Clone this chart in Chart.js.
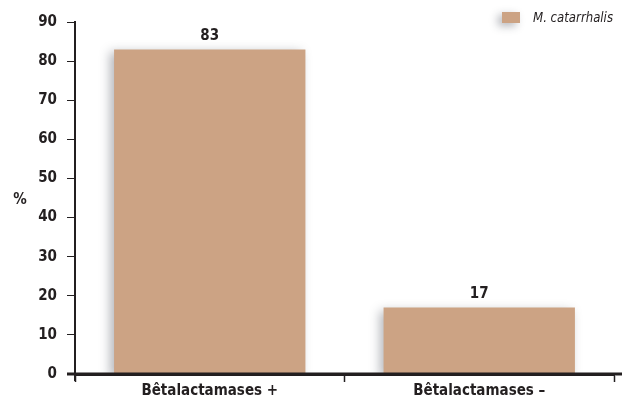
<!DOCTYPE html>
<html>
<head>
<meta charset="utf-8">
<script src="https://cdn.jsdelivr.net/npm/chart.js@4"></script>
<style>
  html, body { margin: 0; padding: 0; background: #fff; }
  #wrap { width: 622px; height: 398px; }
</style>
</head>
<body>
<div id="wrap"><canvas id="chart"></canvas></div>
<script>
const categories = ['Bêtalactamases +', 'Bêtalactamases –'];
const seriesName = 'M. catarrhalis';
const values = [83, 17];
const yTicks = [0, 10, 20, 30, 40, 50, 60, 70, 80, 90];

const ink = '#231f20';
const barColor = '#cca384';
const font = "'Liberation Sans Narrow', 'DejaVu Sans Condensed', Arial, sans-serif";

// soft shadow under the bars
const barShadow = {
  id: 'barShadow',
  beforeDatasetsDraw(chart) {
    const ctx = chart.ctx;
    ctx.save();
    ctx.shadowColor = 'rgba(40,45,60,0.35)';
    ctx.shadowBlur = 10;
    ctx.shadowOffsetX = -4;
    ctx.shadowOffsetY = 3;
  },
  afterDatasetsDraw(chart) {
    chart.ctx.restore();
  }
};

// value labels, "%" caption, legend and axis extensions
const extras = {
  id: 'extras',
  afterDraw(chart) {
    const ctx = chart.ctx;
    const area = chart.chartArea;
    ctx.save();

    // axis lines running past the corner
    ctx.strokeStyle = ink;
    ctx.lineWidth = 3;
    ctx.beginPath();
    ctx.moveTo(area.left - 8, area.bottom);
    ctx.lineTo(chart.width, area.bottom);
    ctx.stroke();
    ctx.lineWidth = 2;
    ctx.beginPath();
    ctx.moveTo(area.left, area.bottom);
    ctx.lineTo(area.left, area.bottom + 7);
    ctx.stroke();

    ctx.fillStyle = ink;
    ctx.font = 'bold 15px ' + font;
    ctx.textAlign = 'center';
    ctx.textBaseline = 'bottom';
    const meta = chart.getDatasetMeta(0);
    meta.data.forEach((bar, i) => {
      ctx.fillText(String(values[i]), bar.x, bar.y - 6);
    });

    ctx.textBaseline = 'middle';
    ctx.fillText('%', 20, 200);

    // legend
    ctx.save();
    ctx.shadowColor = 'rgba(40,45,60,0.35)';
    ctx.shadowBlur = 8;
    ctx.shadowOffsetX = -4;
    ctx.shadowOffsetY = 3;
    ctx.fillStyle = barColor;
    ctx.fillRect(502, 12, 18, 11);
    ctx.restore();
    ctx.fillStyle = ink;
    ctx.textAlign = 'left';
    ctx.font = 'italic 14px ' + font;
    const w = ctx.measureText(seriesName).width;
    const sx = Math.min(1, 80 / w);
    ctx.translate(533, 18);
    ctx.scale(sx, 1);
    ctx.fillText(seriesName, 0, 0);

    ctx.restore();
  }
};

new Chart(document.getElementById('chart'), {
  type: 'bar',
  data: {
    labels: categories,
    datasets: [{
      label: seriesName,
      data: values,
      backgroundColor: barColor,
      borderWidth: 0,
      categoryPercentage: 0.71,
      barPercentage: 1
    }]
  },
  options: {
    responsive: true,
    maintainAspectRatio: false,
    animation: false,
    layout: { padding: { top: 22, right: 8, left: 0, bottom: 0 } },
    plugins: {
      legend: { display: false },
      tooltip: { enabled: false }
    },
    scales: {
      x: {
        afterFit(scale) { scale.height = 24; },
        border: { display: true, color: ink, width: 3 },
        grid: {
          drawOnChartArea: false,
          drawTicks: true,
          tickLength: 8,
          tickColor: ink,
          tickWidth: 1.5
        },
        ticks: {
          color: ink,
          padding: 0,
          font: { family: font, size: 15, weight: 'bold' }
        }
      },
      y: {
        min: 0,
        max: 90,
        afterFit(scale) { scale.width = 75; },
        afterBuildTicks(scale) { scale.ticks = yTicks.map(v => ({ value: v })); },
        border: { display: true, color: ink, width: 2 },
        grid: {
          drawOnChartArea: false,
          drawTicks: true,
          tickLength: 8,
          tickColor: ink,
          tickWidth: 1
        },
        ticks: {
          color: ink,
          padding: 10,
          font: { family: font, size: 15, weight: 'bold' }
        }
      }
    }
  },
  plugins: [barShadow, extras]
});
</script>
</body>
</html>
